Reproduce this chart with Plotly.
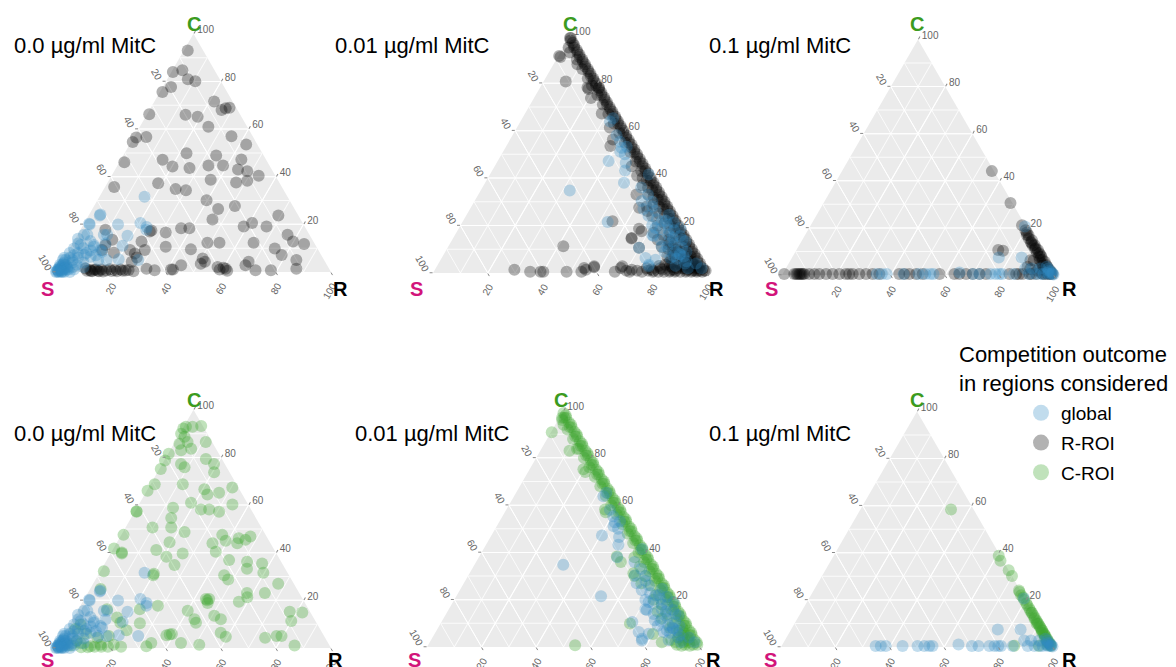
import math
import plotly.graph_objects as go

FIG_W, FIG_H = 1176, 667
FONT = "Liberation Sans, Arial, Helvetica, sans-serif"

# ---------------------------------------------------------------------------
# Competition outcomes as (C %, R %) pairs; S % is the remainder to 100.
# ---------------------------------------------------------------------------

# 0.0 ug/ml MitC
global_00 = [
    (31.6, 16.4), (23.7, 4.1), (19.9, 12.6), (20.6, 20.4), (17.7, 24), (18.9, 23.5),
    (19.9, 2.3), (15.6, 9.6), (15.2, 18.4), (15.6, 3.6), (11, 18.7), (5.4, 20.1),
    (11.3, 8.1), (9.2, 11.6), (11.3, 3.3), (9.9, 1.6), (7.1, 6.7), (6.4, 9.4),
    (5, 12.9), (5, 15.9), (5, 3.5), (15.6, 10.8), (15.6, 2.4), (10.6, 8.5),
    (8.5, 12.5), (5, 27.4), (20.3, 1.9), (24.1, 4.1),
    (0, 0), (1, 0), (0, 1), (2, 1), (1, 2), (3, 0), (0, 3), (2, 3), (4, 1), (3, 2),
    (4, 4), (6, 2), (2, 5), (5, 1), (7, 3), (8, 1), (1, 6), (3, 6), (6, 5), (8, 4),
    (10, 5), (12, 2), (13, 6), (9, 8), (14, 1), (4, 8), (2, 9), (0, 5), (5, 0),
    (1, 4), (6, 0), (0, 2), (3, 1), (2, 2), (1, 1), (8, 7), (12, 12), (7, 11),
    (0.5, 0.5), (1.5, 0.5), (0.5, 1.5), (2.5, 0.5), (0.5, 2.5), (3.5, 1), (1, 3.5),
    (0.2, 0.2), (0.8, 0.3), (0.3, 0.8), (1.2, 1.2), (2, 0.2), (0.2, 2), (1.5, 2.5),
]
r_roi_00 = [
    (93, 1.4), (84, 0.5), (84.7, 3.6), (80.9, 7.5), (80.1, 10.6), (77.7, 3), (75.6, 0.9),
    (71.6, 21.7), (68, 26.2), (68.8, 27.3), (69, 28.6), (66, 14.1), (65.2, 18.9),
    (61, 24.9), (66.2, 0.8), (57, 35.3), (56.5, 0.9), (54.6, 0.6), (56.7, 4.5),
    (53.5, 42.4), (49.9, 22.5), (48.9, 33.8), (44.7, 38.4), (47.2, 43.8), (47.1, 15.2),
    (46.1, 1.8), (44.3, 20.2), (43.7, 26.7), (44.7, 33.1), (43, 44.7), (42.3, 48.4),
    (40.4, 53.5), (38.7, 36.9), (37.6, 46.7), (38.3, 50.4), (37.3, 18.5), (35.7, 3.3),
    (34.8, 26.1), (34.3, 30.1), (30.1, 39.7), (26.5, 45.7), (27.7, 51.2), (23.7, 69),
    (22, 45.9), (20.6, 61), (19.1, 58.7), (19.1, 67), (18.4, 36.3), (18.4, 39.3),
    (17.4, 26), (15.6, 76.4), (12.8, 79.8), (11.8, 84.3), (12.3, 65.7), (9.9, 74.6),
    (7.1, 78.5), (5, 84.9), (1.4, 86.7), (12.3, 48.9), (12.3, 53.3), (9.5, 44.3),
    (10.6, 34.6), (9.2, 27.7), (5.7, 50.5), (2.1, 57.7), (1.4, 61), (4.3, 67.9),
    (2.8, 67.5), (0.7, 72.2), (0.7, 77.8), (2.8, 44.1), (1, 42), (9.2, 22.3),
    (7.8, 24.8), (13.5, 13.7), (17, 25.6), (16.6, 31.6), (12.8, 24.7), (11.3, 12.3),
    (8.1, 17), (6.1, 26.3), (4.3, 25.4), (3.5, 50.9), (1.4, 32.2), (0.7, 35.5),
    (1.1, 41.3), (17.7, 9.1), (9.2, 12.2), (4.3, 52), (1, 59), (1.8, 60), (0.5, 62),
    (0.5, 11), (0.8, 12), (0.3, 13), (1, 14), (0.5, 15), (0.2, 17), (0.6, 18),
    (1.2, 19), (0.4, 20), (0.8, 21), (0.3, 22), (1, 23), (0.5, 24), (0.8, 26),
    (0.3, 28), (1.5, 10), (1, 16), (0.6, 25), (0.4, 12.5), (0.9, 13.5), (0.3, 15.5),
]
c_roi_00 = [
    (92.2, 0.2), (92.9, 0.8), (92.9, 3.2), (90, 0.5), (88.7, 2.4), (93.2, 6.2),
    (85.8, 2), (86.5, 4.6), (83.7, 7.3), (83, 4), (86.5, 11.2), (81.6, 0.2),
    (78.7, 0.3), (75.2, 0.5), (68.8, 1.5), (66, 0.3), (57.4, 0.6), (57.2, 0.7),
    (77.3, 6.8), (75.9, 8.8), (79.4, 14.8), (77.3, 18.8), (73.8, 20.6), (68.8, 11.7),
    (61, 18.6), (58.9, 13.1), (54.6, 14.6), (58.2, 23.6), (58.2, 26.6), (57.2, 30.7),
    (64.5, 22.8), (65.2, 26.7), (67.4, 30.4), (60.3, 34), (66.7, 20.6), (50.6, 9.8),
    (50.6, 16.6), (48.7, 22.4), (44.4, 19.1), (41.1, 15.9), (34.8, 25.7), (31.2, 20),
    (47.5, 36.7), (46.1, 43.4), (45.4, 46.2), (46.8, 47.3), (44, 43.9), (45, 39.2),
    (44, 34.9), (40.4, 37.9), (36.9, 44.5), (36.2, 51.4), (35.5, 57.2), (31.6, 59.6),
    (33.3, 52.8), (30.5, 45.9), (28.8, 48.2), (47.5, 0.8), (40.1, 3.9), (32.2, 1.3),
    (24.8, 3.8), (27, 67.3), (23.1, 64.4), (23.1, 57.9), (21.3, 58.9), (19.4, 56.8),
    (20.6, 45.4), (18.9, 45.7), (15.6, 40.1), (12.1, 44.3), (10.6, 45.6), (12.1, 53.9),
    (6.4, 56.7), (4.7, 59.4), (4.3, 73.9), (5, 77.7), (5, 79.5), (1.1, 86.2),
    (11.3, 79.9), (14.9, 82.1), (15.2, 77.4), (5.7, 38.5), (5.3, 37.5), (5.9, 39.2),
    (2.1, 44.4), (1.4, 51.4), (0.7, 32.5), (2.1, 33.6), (10.6, 18.1), (10.4, 25.3),
    (7.5, 21.9), (1.4, 20.3), (1.4, 15.5), (0.7, 12.2), (4.3, 12.9), (5, 16.7),
    (16.3, 10.4), (9.9, 4), (20.6, 44.2), (20, 45), (41.8, 0.2), (39.7, 4.1),
    (30.5, 20.1), (17.7, 28.2), (39.7, 26.2), (38.3, 21), (16.3, 22.3), (12.8, 15.8),
    (13.5, 50.8), (0.5, 23.4), (0.5, 18.6), (0.5, 16.2), (0.5, 13.8), (0.3, 9),
    (0.3, 11.4), (2, 8), (3, 6), (1, 5), (6, 8), (8, 3),
]

# 0.01 ug/ml MitC
global_001 = [
    (34.8, 32.5), (47.2, 40.5), (65.2, 33.1), (63.8, 32.7), (52.8, 42.4), (46.5, 47.1),
    (38, 50.7), (43.2, 48.5), (21.5, 53), (30.3, 61), (26.1, 68.2), (21.8, 72.7),
    (20.4, 75.3), (19, 71.7), (13.4, 80.6), (10.6, 85.6), (9.2, 83.9), (6.3, 83.5),
    (5.6, 78.4), (10.6, 69.9), (6.3, 74.4), (3.5, 77), (13.4, 85.4), (19, 80.8),
    (24.6, 73.8), (41.5, 58), (51.1, 42.8), (55.3, 40.6), (53.2, 44.1), (27, 63.3),
    (24.1, 66.6), (22.7, 70.4), (18.4, 73.7), (15.6, 72.7), (11.3, 77.8), (7.1, 84.3),
    (7.8, 86.3), (2.8, 77.3), (15.6, 82.4), (21.3, 77.2), (58, 38), (50, 45), (36, 58),
    (33, 62), (28, 66), (22, 74), (18, 77), (16, 78), (15, 80), (12, 82), (8, 86),
    (7, 88), (4, 90), (3, 87), (2, 92), (16, 72), (14, 76), (11, 80), (9, 80), (6, 86),
    (30, 65), (9, 88), (5, 90), (4, 94), (2, 97), (20, 70), (18, 79), (14, 84),
]
r_roi_001 = [
    (99, 0.5), (97, 2.5), (96, 3.5), (94, 5.5), (92, 7.5), (90, 9.5), (88, 11.5),
    (86, 13.5), (84, 15.5), (82, 17.5), (80, 19.5), (78, 21.5), (76, 23.5), (74, 25.5),
    (72, 27.5), (70, 29.5), (68, 31.5), (66, 33.5), (64, 35.5), (62, 37.5), (60, 39.5),
    (58, 41.5), (56, 43.5), (54, 45.5), (52, 47.5), (50, 49.5), (48, 51.5), (46, 53.5),
    (44, 55.5), (42, 57.5), (40, 59.5), (38, 61.5), (36, 63.5), (34, 65.5), (32, 67.5),
    (30, 69.5), (28, 71.5), (26, 73.5), (24, 75.5), (22, 77.5), (20, 79.5), (18, 81.5),
    (16, 83.5), (14, 85.5), (12, 87.5), (10, 89.5), (8, 91.5), (6, 93.5), (4, 95.5),
    (2, 97.5), (1, 98.5),
    (99, 0.8), (95, 4.0), (91, 8.0), (87, 12.0), (83, 16.0), (79, 20.0), (75, 24.0),
    (71, 28.0), (67, 32.0), (63, 36.0), (59, 40.0), (57, 42.0), (55, 44.0), (53, 46.0),
    (51, 48.0), (49, 50.0), (47, 52.0), (45, 54.0), (43, 56.0), (41, 58.0), (39, 60.0),
    (37, 62.0), (35, 64.0), (33, 66.0), (31, 68.0), (29, 70.0), (27, 72.0), (25, 74.0),
    (23, 76.0), (21, 78.0), (19, 80.0), (17, 82.0), (15, 84.0), (13, 86.0), (11, 88.0),
    (9, 90.0), (7, 92.0), (5, 94.0), (3, 96.0),
    (98, 1.2), (93, 6.2), (89, 10.2), (85, 14.2), (81, 18.2), (77, 22.2), (73, 26.2),
    (69, 30.2), (65, 34.2), (61, 38.2),
    (90, 7.5), (86, 11.5), (82, 15.5), (79, 18.5), (75, 22.5), (71, 26.5), (67, 30.5),
    (63, 34.5), (59, 38.5), (55, 42.5), (51, 46.5), (47, 50.5), (43, 54.5), (39, 58.5),
    (35, 62.5), (31, 66.5), (27, 70.5), (23, 74.5), (19, 78.5), (15, 82.5), (11, 86.5),
    (7, 90.5), (3, 94.5),
    (45, 50), (41, 54), (37, 58), (33, 62), (29, 66), (25, 70), (21, 74), (17, 78),
    (13, 82), (9, 86), (5, 90), (1, 94),
    (40, 56.5), (36, 60.5), (32, 64.5), (28, 68.5), (24, 72.5), (20, 76.5), (16, 80.5),
    (12, 84.5), (8, 88.5), (4, 92.5),
    (28, 64), (24, 68), (20, 72), (16, 76), (12, 80), (8, 84), (4, 88), (2, 90),
    (17, 72), (14, 75), (11, 78), (7, 82), (4, 85), (1, 88),
    (1, 80), (2, 82), (0.5, 84), (3, 85), (1, 86), (2, 88), (0.5, 90), (3, 89),
    (1.5, 92), (0.5, 94), (2.5, 93), (1, 96), (0.5, 98), (2, 95), (1, 99), (1, 78),
    (0.5, 76), (2, 77), (1, 74),
    (1, 97), (2, 96), (3, 95), (1, 95), (2, 93), (4, 93), (5, 92), (3, 92), (6, 90),
    (2, 91), (4, 91), (5, 89), (7, 88), (3, 90), (1, 92), (6, 88), (8, 87), (9, 85),
    (10, 84), (0.5, 96), (0.5, 92), (0.5, 88), (0.5, 86), (0.5, 82), (0.5, 80),
    (1.5, 83), (1.5, 87), (2.5, 86), (3.5, 83), (4.5, 84), (6, 84), (7, 86), (9, 83),
    (11, 82), (13, 80), (10, 81), (14, 79), (5, 86), (3, 81), (1.5, 79),
    (91, 1), (80.7, 8.1), (77.5, 18), (73.7, 20.8), (67.2, 28), (61.3, 33.9),
    (56.3, 37.5), (53.5, 38), (33.1, 57.7), (27.5, 61.5), (26.1, 65.2), (21.8, 54.6),
    (18.6, 65.9), (14.5, 65.2), (11.3, 41.9), (2.4, 57.6), (2.1, 54.1), (0.5, 48.5),
    (0.5, 40), (0.5, 66.1), (2.1, 67.5), (1, 70), (0.5, 71.5), (1.4, 29), (0.5, 35.2),
    (0.5, 39), (0.5, 53.9), (1.4, 55.1), (2.8, 57.4), (2.8, 67.7), (1.4, 71.8),
    (14.8, 65.1), (10.6, 69.9), (17.6, 67.3), (78.2, 21.5), (78.2, 17.3), (91.5, 0.3),
    (88, 8.7), (95, 2), (93, 3.5),
]
c_roi_001 = [
    (99, 0.5), (97, 2.5), (95, 4.5), (93, 6.5), (91, 8.5), (89, 10.5), (87, 12.5),
    (85, 14.5), (83, 16.5), (81, 18.5), (79, 20.5), (77, 22.5), (75, 24.5), (73, 26.5),
    (71, 28.5), (69, 30.5), (67, 32.5), (65, 34.5), (63, 36.5), (61, 38.5), (59, 40.5),
    (57, 42.5), (55, 44.5), (53, 46.5), (51, 48.5), (49, 50.5), (47, 52.5), (45, 54.5),
    (43, 56.5), (41, 58.5), (39, 60.5), (37, 62.5), (35, 64.5), (33, 66.5), (31, 68.5),
    (29, 70.5), (27, 72.5), (25, 74.5), (23, 76.5), (21, 78.5), (19, 80.5), (17, 82.5),
    (15, 84.5), (13, 86.5), (11, 88.5), (9, 90.5), (7, 92.5), (5, 94.5), (3, 96.5),
    (1, 98.5),
    (98, 1.8), (94, 5.8), (90, 9.8), (86, 13.8), (82, 17.8), (78, 21.8), (74, 25.8),
    (70, 29.8), (66, 33.8), (62, 37.8), (58, 41.8), (54, 45.8), (50, 49.8), (46, 53.8),
    (42, 57.8), (38, 61.8), (34, 65.8), (30, 69.8), (26, 73.8), (22, 77.8), (18, 81.8),
    (14, 85.8), (10, 89.8), (6, 93.8), (2, 97.8),
    (97, 1.8), (93, 5.8), (89, 9.8), (85, 13.8), (81, 17.8), (77, 21.8), (73, 25.8),
    (69, 29.8), (65, 33.8), (61, 37.8), (57, 41.8), (53, 45.8), (49, 49.8), (45, 53.8),
    (41, 57.8), (37, 61.8), (33, 65.8), (29, 69.8), (25, 73.8), (21, 77.8), (17, 81.8),
    (13, 85.8), (9, 89.8), (5, 93.8),
    (96, 1.5), (92, 5.5), (88, 9.5), (84, 13.5), (80, 17.5), (76, 21.5), (72, 25.5),
    (68, 29.5), (64, 33.5), (60, 37.5), (56, 41.5), (52, 45.5), (48, 49.5), (44, 53.5),
    (40, 57.5), (36, 61.5), (32, 65.5), (28, 69.5), (24, 73.5), (20, 77.5), (16, 81.5),
    (12, 85.5), (8, 89.5), (4, 93.5),
    (38, 57), (34, 61), (30, 65), (26, 69), (22, 73), (18, 77), (14, 81), (10, 85),
    (6, 89), (2, 93),
    (90.8, 0.3), (83, 10.7), (83.7, 13.1), (75.2, 19.7), (74, 21), (58.2, 36.1),
    (57, 37), (38.3, 50.4), (36, 53), (31.2, 60), (30, 61), (9.9, 69.4), (5.5, 80),
    (2, 85), (1, 91), (3, 88), (0.7, 53.9), (27, 65), (20, 73), (15, 77), (12, 80),
    (8, 85), (4, 90), (97, 1), (94, 3),
    (1, 97), (2, 95), (3, 94), (1, 94), (4, 92), (5, 91), (0.5, 96), (0.5, 93),
    (7, 89), (6, 91), (3, 92), (2, 90),
]

# 0.1 ug/ml MitC
global_01 = [
    (7.4, 76), (7.4, 84.4), (20.6, 79), (0.4, 34.6), (0.4, 36.5), (0.4, 38.3),
    (0.4, 44.5), (0.4, 50), (0.4, 52.5), (0.4, 54.3), (0.4, 55.5), (1.1, 64.7),
    (0.4, 76.4), (0.4, 78.3), (0.4, 79.7), (0.4, 80.7), (0.4, 85), (0.4, 90.5),
    (0.4, 93), (0.4, 94.8), (0.4, 96), (0.4, 97.9), (0.4, 99.1), (0.2, 99.7),
    (2.8, 88), (2.8, 90.5), (2.8, 93.5), (2.8, 96.5), (3.5, 95.5), (1.5, 98),
    (1, 97), (0.4, 70), (0.4, 72.4), (0.6, 98.6), (1.8, 97.2), (0.8, 99),
]
r_roi_01 = [
    (44.1, 55.1), (30.6, 68.7), (21.1, 77.7), (10.6, 74.2), (10.3, 76.1), (6.3, 88.2),
    (6.3, 89.4), (16.9, 82.2), (14.8, 84.5), (12.7, 86.5), (10.6, 88.8), (9.2, 90),
    (7.7, 91.5), (5.6, 93.8), (4.2, 95), (3, 96.2), (2, 97.5), (1, 98.5), (18, 81),
    (13.5, 85), (11.5, 87.5), (8.5, 90.8), (6.5, 92.5), (3.5, 95.8), (1.5, 97.8),
    (1, 97), (2, 96), (3, 95.5), (0.5, 98.5), (1.5, 96.5), (2.5, 94.5), (4, 94),
    (5, 93), (6.5, 91.5), (8, 90.5), (9.5, 89), (11, 87.5), (12.5, 86), (14, 84.5),
    (15.5, 83), (17, 81.5), (19, 80), (0.8, 95), (1.8, 93),
    (0.4, 0.6), (0.4, 4.3), (0.4, 5), (0.4, 5.5), (0.4, 6.1), (0.4, 6.5), (0.4, 7),
    (0.4, 7.5), (0.4, 8), (0.4, 9.8), (0.4, 11.7), (0.4, 13.5), (0.4, 16),
    (0.4, 18.4), (0.4, 20.9), (0.4, 23.3), (0.4, 24.5), (0.4, 25.8), (0.4, 28.2),
    (0.4, 30.7), (0.4, 33.1), (0.4, 35.6), (0.4, 42.9), (0.4, 44.8), (0.4, 46.6),
    (0.4, 49.1), (0.4, 51.5), (0.4, 57.7), (0.4, 63.2), (0.4, 65), (0.4, 67.5),
    (0.4, 69.9), (0.4, 72.4), (0.4, 74.8), (0.4, 83.4), (0.4, 85.9), (0.4, 88.3),
    (0.4, 90.8), (0.4, 93.3), (0.4, 95.7), (0.4, 98.2), (0.4, 96.5), (0.4, 97.5),
    (0.4, 99.3), (0.4, 91.5), (0.4, 87),
    (2.5, 90), (3, 93), (2, 95.5), (3.5, 88.5),
]
c_roi_01 = [
    (58.4, 33.3), (38.7, 60.7), (36.6, 62.4), (32.6, 67.5), (30.2, 69.9), (23.4, 76),
    (22, 77.3), (19.9, 79.5), (17.7, 81.7), (15.6, 83.8), (13.5, 86), (11.3, 88.2),
    (9.9, 89.6), (8.5, 91), (7.1, 92.4), (5, 94.5), (3.5, 96), (2.1, 97.4), (1, 98.5),
    (0.5, 85.5), (0.5, 94.5), (4, 95), (6, 93), (10, 89), (12, 87.2), (14.5, 85),
    (24, 75.5), (21, 78.5), (18.5, 81), (16.5, 83), (14.5, 84.8), (12.5, 87),
    (10.5, 89), (8, 91.5), (6, 93.5), (4.5, 95), (3, 96.5), (1.5, 98), (0.5, 99),
    (2, 97), (5.5, 94), (9, 90.5), (7, 92.5), (1, 97.5), (2.5, 96.5),
]

concentration_labels = ["0.0 µg/ml MitC", "0.01 µg/ml MitC", "0.1 µg/ml MitC"]
global_sets = [global_00, global_001, global_01]
roi_sets = [r_roi_00, r_roi_001, r_roi_01, c_roi_00, c_roi_001, c_roi_01]

GLOBAL_COLOR = "rgba(49,140,195,0.30)"
R_ROI_COLOR = "rgba(0,0,0,0.30)"
C_ROI_COLOR = "rgba(60,165,45,0.32)"
LABEL_C = "#3C9B1E"
LABEL_S = "#D2147A"
LABEL_R = "#000000"

# panel placement in pixels: S-corner x, base line y, side length
panel_px = [
    (56, 272, 275), (433, 273, 274), (782, 275, 272),
    (56, 648, 275), (427, 647, 273), (781, 647, 272),
]
title_px = [(12, 45), (333, 45), (707, 45), (12, 433), (353, 433), (707, 433)]
# vertex letters (centre positions, pixels)
c_label_px = [(194, 24), (570, 24), (917, 24), (194, 400), (561, 400), (917, 400)]
s_label_px = [(48, 289), (416, 289), (771, 289), (48, 660), (414, 660), (770, 660)]
r_label_px = [(340, 289), (716, 289), (1069, 289), (335, 660), (713, 660), (1069, 660)]

fig = go.Figure()
layout_extra = {}
annotations = []


def split(points):
    c_vals = [p[0] for p in points]
    r_vals = [p[1] for p in points]
    s_vals = [max(0.0, 100 - c - r) for c, r in points]
    return c_vals, s_vals, r_vals


def minor_axis():
    return dict(
        tickmode="array", tickvals=[10, 20, 30, 40, 50, 60, 70, 80, 90],
        showticklabels=False, ticks="", showgrid=True,
        gridcolor="rgba(255,255,255,0.8)", gridwidth=0.5, showline=False,
        title=dict(text=""),
    )


def major_axis(angle):
    return dict(
        tickmode="array", tickvals=[0, 20, 40, 60, 80],
        ticktext=["100", "80", "60", "40", "20"],
        ticks="outside", ticklen=3, tickwidth=0.6, tickcolor="#8a8a8a",
        tickfont=dict(family=FONT, size=10, color="#666666"), tickangle=angle,
        showgrid=True, gridcolor="#FFFFFF", gridwidth=1.4, showline=False,
        title=dict(text=""),
    )


def px_to_paper(x, y):
    return x / FIG_W, 1 - y / FIG_H


# background triangles with the fine grid come first so they sit underneath
for i, (sx, base, side) in enumerate(panel_px):
    height = side * math.sqrt(3) / 2
    dom = dict(
        x=[sx / FIG_W, (sx + side) / FIG_W],
        y=[1 - base / FIG_H, 1 - (base - height) / FIG_H],
    )
    back_key = "ternary" if i == 0 else f"ternary{2 * i + 1}"
    front_key = f"ternary{2 * i + 2}"
    layout_extra[back_key] = dict(
        domain=dom, sum=100, bgcolor="#EBEBEB",
        aaxis=minor_axis(), baxis=minor_axis(), caxis=minor_axis(),
    )
    layout_extra[front_key] = dict(
        domain=dom, sum=100, bgcolor="rgba(0,0,0,0)",
        aaxis=major_axis(60), baxis=major_axis(-60), caxis=major_axis(0),
    )
    fig.add_trace(go.Scatterternary(
        a=[None], b=[None], c=[None], subplot=back_key, mode="markers",
        marker=dict(opacity=0), showlegend=False, hoverinfo="skip",
    ))

for i in range(len(panel_px)):
    front_key = f"ternary{2 * i + 2}"
    roi = roi_sets[i]
    roi_color = R_ROI_COLOR if i < 3 else C_ROI_COLOR
    glob = global_sets[i % 3]

    for pts, col in ((roi, roi_color), (glob, GLOBAL_COLOR)):
        c_vals, s_vals, r_vals = split(pts)
        fig.add_trace(go.Scatterternary(
            a=c_vals, b=s_vals, c=r_vals, subplot=front_key, mode="markers",
            marker=dict(size=12, color=col, line=dict(width=0)),
            cliponaxis=False, showlegend=False, hoverinfo="skip",
        ))

    tx, ty = px_to_paper(*title_px[i])
    annotations.append(dict(
        text=concentration_labels[i % 3], x=tx, y=ty,
        xref="paper", yref="paper", xanchor="left", yanchor="middle",
        showarrow=False, font=dict(family=FONT, size=22, color="#000000"),
    ))
    for pos, letter, col in ((c_label_px[i], "C", LABEL_C),
                             (s_label_px[i], "S", LABEL_S),
                             (r_label_px[i], "R", LABEL_R)):
        lx, ly = px_to_paper(*pos)
        annotations.append(dict(
            text=f"<b>{letter}</b>", x=lx, y=ly, xref="paper", yref="paper",
            xanchor="center", yanchor="middle", showarrow=False,
            font=dict(family=FONT, size=20, color=col),
        ))

# legend entries
for name, col in (("global", GLOBAL_COLOR), ("R-ROI", R_ROI_COLOR), ("C-ROI", C_ROI_COLOR)):
    fig.add_trace(go.Scatterternary(
        a=[None], b=[None], c=[None], subplot="ternary2", mode="markers", name=name,
        marker=dict(size=16, color=col, line=dict(width=0)), legendgroup=name,
        showlegend=True,
    ))

lx, ly = px_to_paper(957, 340)
annotations.append(dict(
    text="Competition outcome<br>in regions considered", x=lx, y=ly,
    xref="paper", yref="paper", xanchor="left", yanchor="top", align="left",
    showarrow=False, font=dict(family=FONT, size=22, color="#000000"),
))

leg_x, leg_y = px_to_paper(1021, 394)
fig.update_layout(
    width=FIG_W, height=FIG_H, margin=dict(l=0, r=0, t=0, b=0),
    paper_bgcolor="white", plot_bgcolor="white",
    font=dict(family=FONT),
    annotations=annotations,
    legend=dict(
        x=leg_x, y=leg_y, xanchor="left", yanchor="top",
        font=dict(family=FONT, size=19, color="#000000"), bgcolor="rgba(0,0,0,0)",
        tracegroupgap=2, itemsizing="trace",
    ),
    **layout_extra,
)

fig.write_html("out.html")
